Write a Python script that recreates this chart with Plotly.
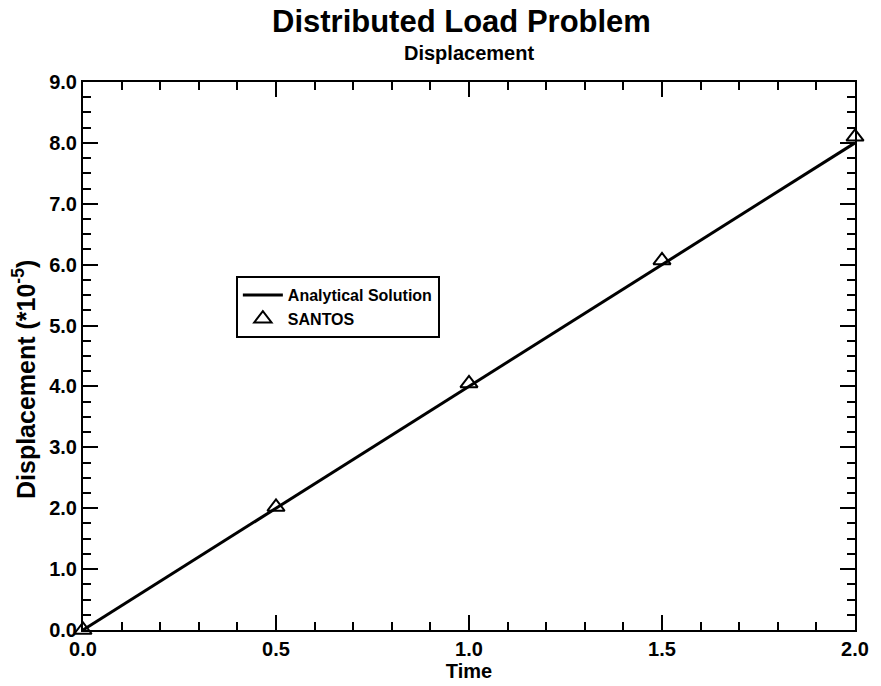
import plotly.graph_objects as go

time_line = [0.0, 2.0]
disp_line = [0.0, 8.0]
time_santos = [0.0, 0.5, 1.0, 1.5, 2.0]
disp_santos = [0.0, 2.02, 4.05, 6.07, 8.1]

x_ticks = [0.0, 0.5, 1.0, 1.5, 2.0]
y_ticks = [0, 1, 2, 3, 4, 5, 6, 7, 8, 9]

FONT = "Liberation Sans, Arial, sans-serif"

fig = go.Figure()
fig.add_trace(go.Scatter(x=time_line, y=disp_line, mode="lines", name="<b>Analytical Solution</b>",
                         line=dict(color="black", width=3)))
fig.add_trace(go.Scatter(x=time_santos, y=disp_santos, mode="markers", name="<b>SANTOS</b>",
                         marker=dict(symbol="triangle-up-open", size=15, color="black",
                                     line=dict(width=2, color="black")),
                         cliponaxis=False))

axis_common = dict(showgrid=False, zeroline=False, showline=True, linecolor="black", linewidth=2,
                   mirror="ticks", ticks="inside", tickcolor="black", tickwidth=2, ticklen=15,
                   tickfont=dict(family=FONT, size=20, color="black", weight="bold"))

fig.update_xaxes(range=[0, 2], tickvals=x_ticks, ticktext=[f"{v:.1f}" for v in x_ticks],
                 minor=dict(dtick=0.1, ticks="inside", ticklen=8, tickwidth=2, tickcolor="black"),
                 title=dict(text="<b>Time</b>", font=dict(family=FONT, size=20, color="black"), standoff=0),
                 **axis_common)
fig.update_yaxes(range=[0, 9], tickvals=y_ticks, ticktext=[f"{v:.1f}" for v in y_ticks],
                 minor=dict(dtick=0.25, ticks="inside", ticklen=8, tickwidth=2, tickcolor="black"),
                 **axis_common)

fig.add_annotation(text="<b>Displacement (*10<sup>-5</sup>)</b>", xref="paper", yref="paper",
                   x=0, xshift=-59, y=0.5, yshift=-24, textangle=-90, showarrow=False,
                   xanchor="center", yanchor="middle",
                   font=dict(family=FONT, size=25, color="black"))
fig.add_annotation(text="<b>Distributed Load Problem</b>", xref="paper", yref="paper",
                   x=0.5, xshift=-8, y=1, yshift=61, xanchor="center", yanchor="middle", showarrow=False,
                   font=dict(family=FONT, size=31, color="black"))
fig.add_annotation(text="<b>Displacement</b>", xref="paper", yref="paper",
                   x=0.5, y=1, yshift=29, xanchor="center", yanchor="middle", showarrow=False,
                   font=dict(family=FONT, size=20, color="black"))

fig.update_layout(
    width=881, height=686,
    margin=dict(l=83, r=18, t=82, b=53),
    paper_bgcolor="white", plot_bgcolor="white",
    legend=dict(x=0.198, y=0.646, xanchor="left", yanchor="top",
                bordercolor="black", borderwidth=2, bgcolor="white",
                font=dict(family=FONT, size=16, color="black"), tracegroupgap=0,
                itemwidth=40),
    showlegend=True,
)

fig.write_html("out.html")
